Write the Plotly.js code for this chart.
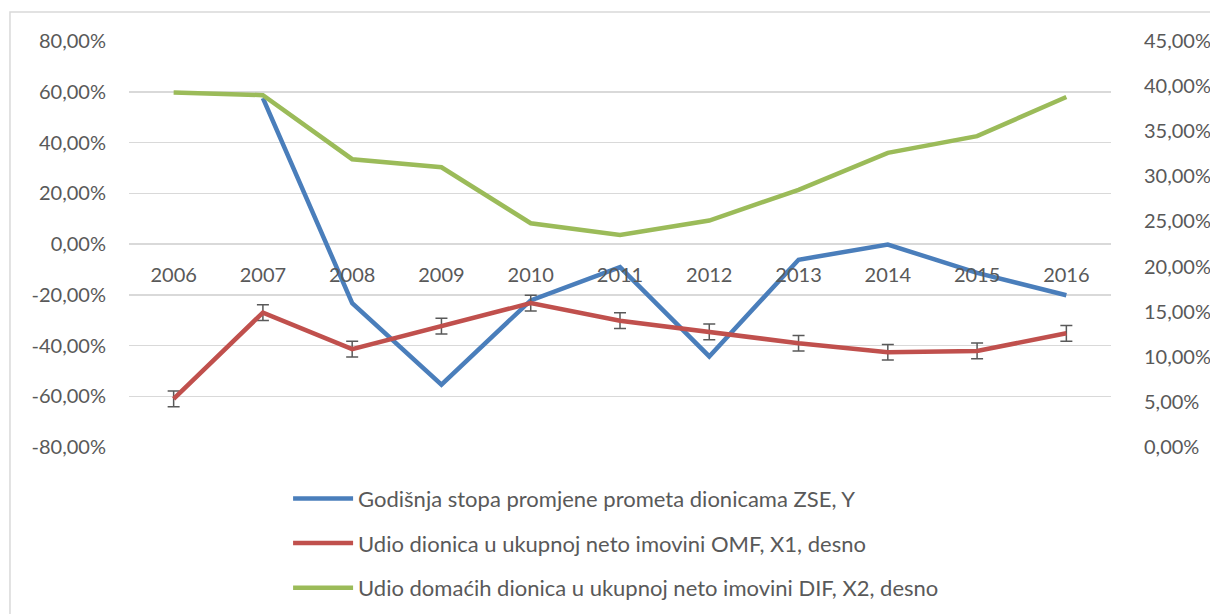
<!DOCTYPE html>
<html>
<head>
<meta charset="utf-8">
<script src="https://cdn.plot.ly/plotly-3.0.1.min.js"></script>
<style>html,body{margin:0;padding:0;background:#fff;}#chart{width:1210px;height:614px;}</style>
</head>
<body>
<div id="chart"></div>
<script>
var years = ['2006','2007','2008','2009','2010','2011','2012','2013','2014','2015','2016'];
var seriesY = [null, 0.575, -0.233, -0.554, -0.222, -0.091, -0.443, -0.062, -0.002, -0.114, -0.202];
var seriesX1 = [0.0533, 0.149, 0.1085, 0.134, 0.1595, 0.140, 0.1277, 0.115, 0.105, 0.1065, 0.126];
var seriesX2 = [0.393, 0.390, 0.319, 0.310, 0.248, 0.235, 0.251, 0.285, 0.326, 0.3445, 0.388];
var errorX1 = 0.0087;
var namesList = ['Godišnja stopa promjene prometa dionicama ZSE, Y',
                 'Udio dionica u ukupnoj neto imovini OMF, X1, desno',
                 'Udio domaćih dionica u ukupnoj neto imovini DIF, X2, desno'];
var leftTickVals = [-0.8,-0.6,-0.4,-0.2,0,0.2,0.4,0.6,0.8];
var leftTickText = ['-80,00%','-60,00%','-40,00%','-20,00%','0,00%','20,00%','40,00%','60,00%','80,00%'];
var rightTickVals = [0,0.05,0.10,0.15,0.20,0.25,0.30,0.35,0.40,0.45];
var rightTickText = ['0,00%','5,00%','10,00%','15,00%','20,00%','25,00%','30,00%','35,00%','40,00%','45,00%'];

var FONT = 'Lato, "Open Sans", sans-serif';
var GREY = '#595959';

var traces = [
  {x: years, y: seriesY, name: namesList[0], type: 'scatter', mode: 'lines', yaxis: 'y',
   legendgroup: 'a', line: {color: '#4A7EBB', width: 4.5}, connectgaps: false, hoverinfo: 'skip'},
  {x: years, y: seriesX1, name: namesList[1], type: 'scatter', mode: 'lines', yaxis: 'y2',
   legendgroup: 'b', line: {color: '#C0504D', width: 4.5},
   error_y: {type: 'constant', value: errorX1, color: GREY, thickness: 1.5, width: 6}, hoverinfo: 'skip'},
  {x: years, y: seriesX2, name: namesList[2], type: 'scatter', mode: 'lines', yaxis: 'y2',
   legendgroup: 'c', line: {color: '#9BBB59', width: 4.5}, hoverinfo: 'skip'}
];

var layout = {
  width: 1210, height: 614,
  margin: {l: 129, r: 99, t: 41, b: 167, pad: 0},
  paper_bgcolor: '#fff', plot_bgcolor: 'rgba(0,0,0,0)',
  font: {family: FONT, color: GREY, size: 20},
  showlegend: true,
  xaxis: {type: 'category', range: [-0.5, 10.5], anchor: 'free', position: 0.5, automargin: false,
          showgrid: false, zeroline: false, showline: false, ticks: '',
          ticklabelstandoff: 17, tickfont: {family: FONT, size: 20, color: GREY}, fixedrange: true},
  yaxis: {range: [-0.8, 0.8], tickvals: leftTickVals, ticktext: leftTickText, automargin: false,
          showgrid: true, gridcolor: '#D9D9D9', gridwidth: 1.5, zeroline: false, showline: false,
          ticks: '', ticklabelstandoff: 22, tickfont: {family: FONT, size: 20, color: GREY}, fixedrange: true},
  yaxis2: {range: [0, 0.45], tickvals: rightTickVals, ticktext: rightTickText, overlaying: 'y', side: 'right',
           automargin: false, showgrid: false, zeroline: false, showline: false, ticks: '', ticklabelstandoff: 32,
           tickfont: {family: FONT, size: 20, color: GREY}, fixedrange: true},
  legend: {orientation: 'v', xref: 'paper', x: 0.162, xanchor: 'left', yref: 'container', y: 0.222, yanchor: 'top',
           traceorder: 'grouped', tracegroupgap: 13, font: {family: FONT, size: 22, color: GREY},
           bgcolor: 'rgba(0,0,0,0)', itemwidth: 60},
  shapes: [{type: 'rect', xref: 'paper', yref: 'paper', x0: -0.1212, x1: 1.2, y0: -0.6, y1: 1.0714,
            line: {color: '#D9D9D9', width: 1.5}, fillcolor: 'rgba(0,0,0,0)', layer: 'below'}]
};

Plotly.newPlot('chart', traces, layout, {staticPlot: true, displayModeBar: false});
</script>
</body>
</html>
